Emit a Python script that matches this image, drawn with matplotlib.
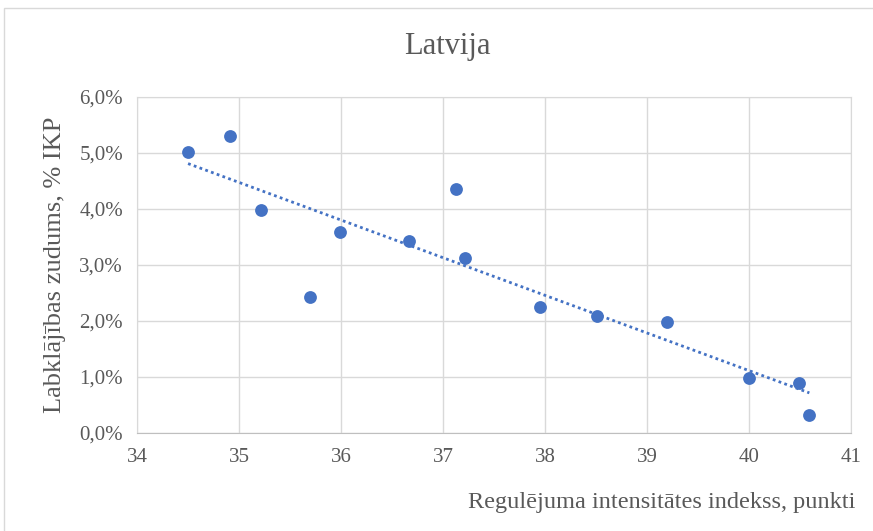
import matplotlib
matplotlib.use('Agg')
import matplotlib.pyplot as plt
import numpy as np
from matplotlib.patches import Rectangle
from matplotlib.ticker import FuncFormatter

# regulejuma intensitate (punkti) un labklajibas zudums (% IKP)
index_x = [34.50, 34.91, 35.21, 35.70, 35.99, 36.67, 37.13, 37.21, 37.95, 38.51, 39.19, 40.00, 40.49, 40.59]
loss_y = [5.01, 5.31, 3.99, 2.42, 3.59, 3.42, 4.36, 3.12, 2.25, 2.09, 1.99, 0.99, 0.89, 0.32]
x_ticks = [34, 35, 36, 37, 38, 39, 40, 41]
y_ticks = [0, 1, 2, 3, 4, 5, 6]

plt.rcParams['font.family'] = ['Liberation Serif', 'DejaVu Serif']
txt = '#595959'
blue = '#4472C4'

fig = plt.figure(figsize=(8.73, 5.31), dpi=100)
ax = fig.add_axes([0.157, 0.1846, 0.818, 0.6327])

x = np.array(index_x)
y = np.array(loss_y)
ax.scatter(x, y, s=85, color=blue, zorder=3, linewidths=0)

# lineara tendences linija
k, b = np.polyfit(x, y, 1)
xt = np.array([x.min(), x.max()])
ax.plot(xt, k * xt + b, color=blue, linestyle=(0, (1, 1.2)), linewidth=2, zorder=2)

ax.set_xlim(34, 41)
ax.set_ylim(0, 6)
ax.set_xticks(x_ticks)
ax.set_yticks(y_ticks)
ax.yaxis.set_major_formatter(FuncFormatter(lambda v, p: ('%.1f%%' % v).replace('.', ',')))
ax.grid(True, color='#D9D9D9', linewidth=1)
ax.set_axisbelow(True)
for s in ['top', 'right', 'left']:
    ax.spines[s].set_color('#D9D9D9')
ax.spines['bottom'].set_color('#BFBFBF')
ax.tick_params(length=0, labelsize=15, colors=txt)
ax.tick_params(axis='x', pad=11)
ax.tick_params(axis='y', pad=10)

ax.set_xlabel('Regulējuma intensitātes indekss, punkti', fontsize=17.5, color=txt)
ax.xaxis.set_label_coords(1.006, -0.175, transform=ax.transAxes)
ax.xaxis.label.set_horizontalalignment('right')
ax.set_ylabel('Labklājības zudums, % IKP', fontsize=19, color=txt, labelpad=10)
fig.text(0.513, 0.912, 'Latvija', fontsize=22, color=txt, ha='center', va='center')

fig.patches.append(Rectangle((0.005, -0.01), 1.1, 0.995, transform=fig.transFigure,
                             fill=False, edgecolor='#D9D9D9', linewidth=1))

fig.savefig('out.png', dpi=100, facecolor='white')
